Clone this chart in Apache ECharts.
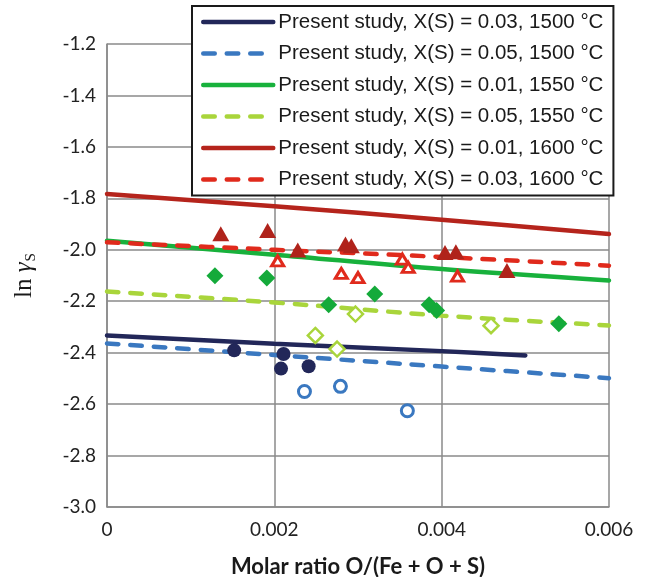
<!DOCTYPE html>
<html>
<head>
<meta charset="utf-8">
<script src="https://cdn.jsdelivr.net/npm/echarts@6/dist/echarts.min.js"></script>
<style>
  html, body { margin: 0; padding: 0; background: #fff; }
  #chart { width: 648px; height: 577px; }
</style>
</head>
<body>
<div id="chart"></div>
<script>
// Axis ticks
const xTicks = [0, 0.002, 0.004, 0.006];
const yTicks = [-3.0, -2.8, -2.6, -2.4, -2.2, -2.0, -1.8, -1.6, -1.4, -1.2];

// Model curves: [O/(Fe+O+S), ln gamma_S]
const curve1500_003 = [[0, -2.333], [0.002, -2.365], [0.004, -2.394], [0.005, -2.411]];
const curve1500_005 = [[0, -2.364], [0.002, -2.409], [0.004, -2.454], [0.006, -2.499]];
const curve1550_001 = [[0, -1.965], [0.002, -2.019], [0.004, -2.075], [0.006, -2.119]];
const curve1550_005 = [[0, -2.162], [0.002, -2.205], [0.004, -2.256], [0.006, -2.294]];
const curve1600_001 = [[0, -1.783], [0.002, -1.831], [0.004, -1.883], [0.006, -1.939]];
const curve1600_003 = [[0, -1.971], [0.002, -2.000], [0.004, -2.028], [0.006, -2.062]];

// Measured points
const meas1500_003 = [[0.00152, -2.391], [0.00211, -2.405], [0.00208, -2.462], [0.00241, -2.453]];
const meas1500_005 = [[0.00236, -2.551], [0.00279, -2.531], [0.00359, -2.626]];
const meas1550_001 = [[0.00129, -2.101], [0.00191, -2.110], [0.00265, -2.214], [0.00320, -2.172],
                      [0.00385, -2.214], [0.00394, -2.236], [0.00540, -2.288]];
const meas1550_005 = [[0.00249, -2.333], [0.00275, -2.386], [0.00297, -2.250], [0.00459, -2.295]];
const meas1600_001 = [[0.00136, -1.938], [0.00192, -1.925], [0.00228, -2.001], [0.00285, -1.978],
                      [0.00292, -1.984], [0.00404, -2.011], [0.00417, -2.008], [0.00478, -2.081]];
const meas1600_003 = [[0.00204, -2.043], [0.00280, -2.092], [0.00300, -2.108], [0.00353, -2.036],
                      [0.00360, -2.068], [0.00419, -2.102]];

const legendNames = [
  'Present study, X(S) = 0.03, 1500 °C',
  'Present study, X(S) = 0.05, 1500 °C',
  'Present study, X(S) = 0.01, 1550 °C',
  'Present study, X(S) = 0.05, 1550 °C',
  'Present study, X(S) = 0.01, 1600 °C',
  'Present study, X(S) = 0.03, 1600 °C'
];

const C = {
  navy: '#222759',
  blue: '#3a78c0',
  green: '#18b13c',
  lime: '#a9d53b',
  darkRed: '#b5241c',
  red: '#e02a1c'
};

const LINE_W = 4.5;
const DASH = [11.5, 12];

function curve(name, data, color, dashed) {
  return {
    name: name,
    type: 'line',
    data: data,
    smooth: 0.35,
    symbol: 'none',
    showSymbol: false,
    silent: true,
    lineStyle: { color: color, width: LINE_W, type: dashed ? DASH : 'solid', cap: 'round' },
    itemStyle: { color: color },
    z: 2
  };
}

function points(data, symbol, size, color, open, bw) {
  return {
    type: 'scatter',
    data: data,
    symbol: symbol,
    symbolSize: size,
    silent: true,
    itemStyle: open
      ? { color: '#ffffff', borderColor: color, borderWidth: bw, opacity: 1 }
      : { color: color, borderWidth: 0, opacity: 1 },
    z: 5
  };
}

const chart = echarts.init(document.getElementById('chart'), null, { renderer: 'canvas' });

chart.setOption({
  animation: false,
  backgroundColor: '#ffffff',
  grid: { left: 107, right: 39, top: 44, bottom: 70, containLabel: false, outerBoundsMode: 'none' },
  xAxis: {
    type: 'value',
    min: xTicks[0],
    max: xTicks[xTicks.length - 1],
    interval: xTicks[1] - xTicks[0],
    name: 'Molar ratio O/(Fe + O + S)',
    nameLocation: 'middle',
    nameGap: 49,
    nameTextStyle: { fontFamily: 'Lato', fontWeight: 'bold', fontSize: 22, color: '#1a1a1a' },
    axisLine: { show: true, lineStyle: { color: '#8a8a8a', width: 1.5 } },
    axisTick: { show: false },
    splitLine: { show: true, lineStyle: { color: '#8a8a8a', width: 1.5 } },
    axisLabel: {
      margin: 13,
      fontFamily: 'Lato',
      fontSize: 19,
      color: '#222',
      formatter: v => (v === 0 ? '0' : v.toFixed(3))
    }
  },
  yAxis: {
    type: 'value',
    min: yTicks[0],
    max: yTicks[yTicks.length - 1],
    interval: 0.2,
    name: '{a|ln }{g|γ}{s|S}',
    nameLocation: 'middle',
    nameRotate: 90,
    nameGap: 68,
    nameTextStyle: {
      fontFamily: 'Liberation Serif',
      color: '#1a1a1a',
      rich: {
        a: { fontFamily: 'Liberation Serif', fontSize: 25, color: '#1a1a1a', lineHeight: 30, verticalAlign: 'middle' },
        g: { fontFamily: 'Liberation Serif', fontStyle: 'italic', fontSize: 25, color: '#1a1a1a', lineHeight: 30, verticalAlign: 'middle' },
        s: { fontFamily: 'Liberation Serif', fontSize: 15, color: '#1a1a1a', lineHeight: 30, verticalAlign: 'bottom', padding: [0, 0, 0, 1] }
      }
    },
    axisLine: { show: true, lineStyle: { color: '#8a8a8a', width: 1.5 } },
    axisTick: { show: false },
    splitLine: { show: true, lineStyle: { color: '#8a8a8a', width: 1.5 } },
    axisLabel: {
      margin: 11,
      fontFamily: 'Lato',
      fontSize: 19,
      color: '#222',
      formatter: v => v.toFixed(1)
    }
  },
  legend: {
    data: legendNames,
    orient: 'vertical',
    left: 192,
    top: 6,
    padding: [5, 10, 5, 9],
    itemWidth: 70,
    itemHeight: 14,
    itemGap: 9.5,
    borderColor: '#1a1a1a',
    borderWidth: 2,
    backgroundColor: '#ffffff',
    selectedMode: false,
    itemStyle: { opacity: 0 },
    lineStyle: { width: LINE_W, cap: 'round', type: 'inherit', color: 'inherit' },
    textStyle: { fontFamily: 'Liberation Sans', fontSize: 20.5, color: '#1a1a1a', lineHeight: 22 },
    z: 10
  },
  series: [
    curve(legendNames[0], curve1500_003, C.navy, false),
    curve(legendNames[1], curve1500_005, C.blue, true),
    curve(legendNames[2], curve1550_001, C.green, false),
    curve(legendNames[3], curve1550_005, C.lime, true),
    curve(legendNames[4], curve1600_001, C.darkRed, false),
    curve(legendNames[5], curve1600_003, C.red, true),
    points(meas1500_003, 'circle', 14, C.navy, false),
    points(meas1500_005, 'circle', 12, C.blue, true, 3),
    points(meas1550_001, 'diamond', 17, '#14aa3a', false),
    points(meas1550_005, 'diamond', 15, C.lime, true, 2.5),
    points(meas1600_001, 'triangle', [17, 15], '#b0231b', false),
    points(meas1600_003, 'triangle', [12, 10], C.red, true, 3)
  ]
});
</script>
</body>
</html>
